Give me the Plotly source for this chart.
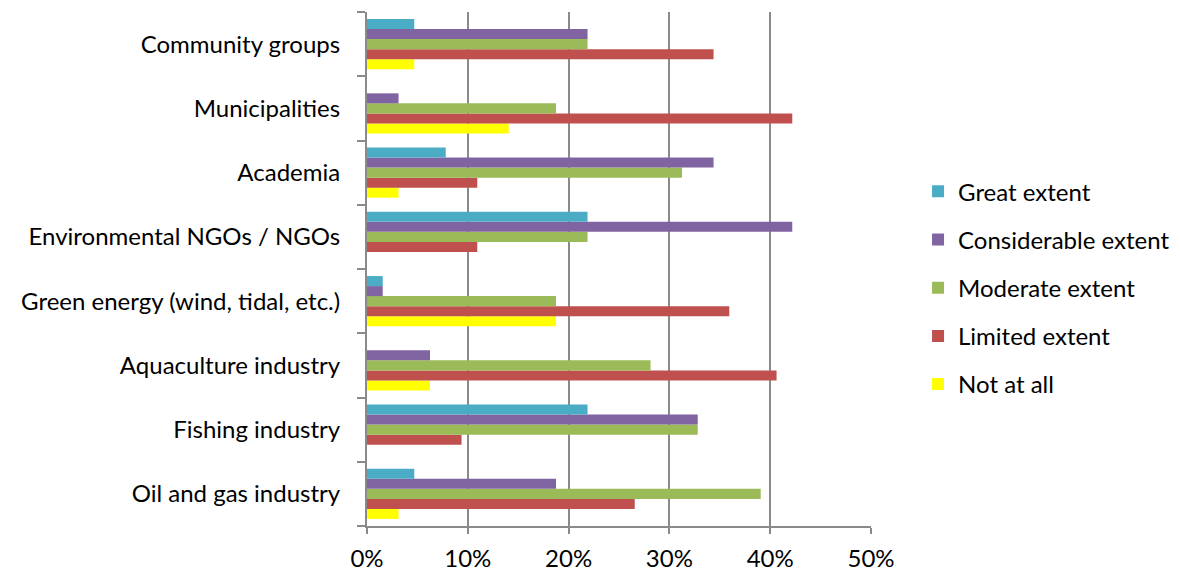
import plotly.graph_objects as go

# Stakeholder groups, listed bottom to top
categories = [
    "Oil and gas industry",
    "Fishing industry",
    "Aquaculture industry",
    "Green energy (wind, tidal, etc.)",
    "Environmental NGOs / NGOs",
    "Academia",
    "Municipalities",
    "Community groups",
]

# Share of respondents (%) per response level, same order as categories
great_extent = [4.69, 21.88, 0.0, 1.56, 21.88, 7.81, 0.0, 4.69]
considerable_extent = [18.75, 32.81, 6.25, 1.56, 42.19, 34.38, 3.13, 21.88]
moderate_extent = [39.06, 32.81, 28.13, 18.75, 21.88, 31.25, 18.75, 21.88]
limited_extent = [26.56, 9.38, 40.63, 35.94, 10.94, 10.94, 42.19, 34.38]
not_at_all = [3.13, 0.0, 6.25, 18.75, 0.0, 3.13, 14.06, 4.69]

x_ticks = [0, 10, 20, 30, 40, 50]
x_tick_labels = ["0%", "10%", "20%", "30%", "40%", "50%"]

# Traces are added bottom-up within each group so "Great extent" sits on top;
# the legend rank lists them top-down instead
series = [
    ("Not at all", not_at_all, "#FFFF00", 5),
    ("Limited extent", limited_extent, "#C0504D", 4),
    ("Moderate extent", moderate_extent, "#9BBB59", 3),
    ("Considerable extent", considerable_extent, "#8064A2", 2),
    ("Great extent", great_extent, "#4BACC6", 1),
]

FONT = "Lato"
GRID = "#8a8a8a"

fig = go.Figure()
for name, values, color, rank in series:
    fig.add_trace(
        go.Bar(
            name=name,
            y=categories,
            x=values,
            orientation="h",
            legendgroup=name,
            legendrank=rank,
            marker=dict(color=color, line=dict(width=0)),
        )
    )

fig.update_layout(
    width=1180,
    height=573,
    barmode="group",
    bargap=0.22,
    bargroupgap=0,
    plot_bgcolor="white",
    paper_bgcolor="white",
    margin=dict(l=367, r=309, t=12, b=47, autoexpand=False),
    font=dict(family=FONT, size=24, color="#000000"),
    legend=dict(
        traceorder="grouped",
        xref="container",
        x=0.778,
        xanchor="left",
        y=0.4636,
        yanchor="middle",
        tracegroupgap=14,
        font=dict(family=FONT, size=24, color="#000000"),
        bgcolor="rgba(0,0,0,0)",
    ),
    showlegend=True,
)

fig.update_xaxes(
    range=[0, 50],
    tickvals=x_ticks,
    ticktext=x_tick_labels,
    showgrid=True,
    gridcolor=GRID,
    gridwidth=2,
    showline=True,
    linecolor=GRID,
    linewidth=2,
    ticks="outside",
    ticklen=6,
    tickwidth=2,
    tickcolor=GRID,
    zeroline=False,
    ticklabelstandoff=4,
    automargin=False,
)

fig.update_yaxes(
    type="category",
    categoryorder="array",
    categoryarray=categories,
    showgrid=False,
    showline=True,
    linecolor=GRID,
    linewidth=2,
    ticks="outside",
    tickson="boundaries",
    ticklen=8,
    tickwidth=2,
    tickcolor=GRID,
    ticklabelstandoff=20,
    automargin=False,
)

fig.write_html("out.html")
